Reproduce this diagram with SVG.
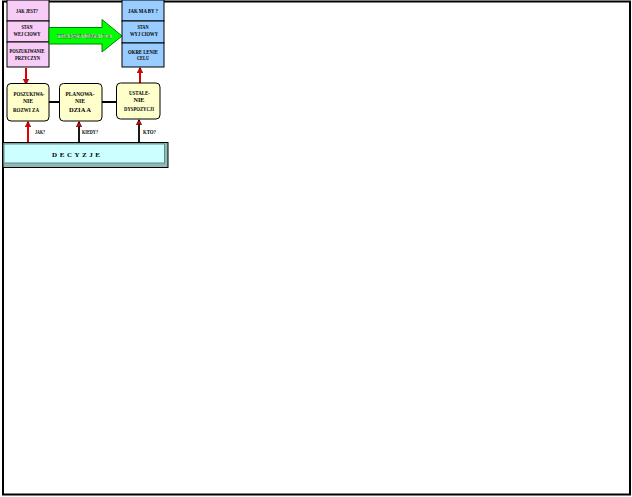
<svg xmlns="http://www.w3.org/2000/svg" width="632" height="497" viewBox="0 0 632 497">
<style>
.t{font-family:"Liberation Serif","Times New Roman",serif;font-weight:bold;font-size:7px;fill:#000;text-anchor:middle}
.box{stroke:#000;stroke-width:1}
.pink{fill:#f7ccf7}
.blue{fill:#99ccff}
.yel{fill:#ffffcc;stroke:#000;stroke-width:1}
.conn{stroke:#000;stroke-width:2;fill:none}
.red{stroke:#e00000;stroke-width:2;fill:none}
.blk{stroke:#000;stroke-width:1.8;fill:none}
</style>
<defs>
<marker id="ar" viewBox="0 0 10 10" refX="9" refY="5" markerWidth="3" markerHeight="3" orient="auto" markerUnits="strokeWidth">
<path d="M0,0 L10,5 L0,10 z" fill="#e00000" stroke="#600000" stroke-width="1"/>
</marker>
<marker id="ab" viewBox="0 0 10 10" refX="9" refY="5" markerWidth="3" markerHeight="3" orient="auto" markerUnits="strokeWidth">
<path d="M0,0 L10,5 L0,10 z" fill="#e00000" stroke="#000" stroke-width="1"/>
</marker>
</defs>
<rect width="632" height="497" fill="#fff"/>
<rect x="3" y="1.5" width="627" height="493" fill="none" stroke="#000" stroke-width="2"/>

<g id="connectors">
<line class="conn" x1="49" y1="102" x2="60" y2="102"/>
<line class="conn" x1="102" y1="102" x2="117" y2="102"/>
<line class="red" x1="26" y1="68" x2="26" y2="84" marker-end="url(#ar)"/>
<line class="red" x1="140" y1="84" x2="140" y2="68" marker-end="url(#ar)"/>
<line class="red" x1="28" y1="142" x2="28" y2="122" marker-end="url(#ar)"/>
<line class="blk" x1="79" y1="142" x2="79" y2="122" marker-end="url(#ab)"/>
<line class="blk" x1="139" y1="142" x2="139" y2="120" marker-end="url(#ab)"/>
<text class="t" x="40" y="134" font-size="6" textLength="10" lengthAdjust="spacingAndGlyphs">JAK?</text>
<text class="t" x="90" y="134" font-size="6" textLength="16" lengthAdjust="spacingAndGlyphs">KIEDY?</text>
<text class="t" x="149.5" y="134" font-size="6" textLength="13" lengthAdjust="spacingAndGlyphs">KTO?</text>
</g>

<g id="stan-wejsciowy">
<rect class="box pink" x="7" y="0" width="42" height="21"/>
<rect class="box pink" x="7" y="21" width="42" height="21"/>
<rect class="box pink" x="7" y="42" width="42" height="25"/>
<text class="t" x="27" y="13" textLength="22" lengthAdjust="spacingAndGlyphs">JAK JEST?</text>
<text class="t" x="27" y="28.5" textLength="11" lengthAdjust="spacingAndGlyphs">STAN</text>
<text class="t" x="27" y="35.5" textLength="27" lengthAdjust="spacingAndGlyphs">WEJ CIOWY</text>
<text class="t" x="27" y="52.5" textLength="35" lengthAdjust="spacingAndGlyphs">POSZUKIWANIE</text>
<text class="t" x="27.5" y="59.5" textLength="25" lengthAdjust="spacingAndGlyphs">PRZYCZYN</text>
</g>

<g id="transformacja">
<path d="M49,27.5 L102,27.5 L102,19.5 L122,36 L102,52 L102,44 L49,44 z" fill="#00ff00" stroke="#008000" stroke-width="1"/>
<text class="t" x="84.5" y="37.5" style="fill:#ffffff" stroke="#303030" stroke-width="0.25" textLength="55" lengthAdjust="spacingAndGlyphs">TRANSFORMACJA</text>
</g>

<g id="stan-wyjsciowy">
<rect class="box blue" x="122" y="0" width="42" height="21"/>
<rect class="box blue" x="122" y="21" width="42" height="22"/>
<rect class="box blue" x="122" y="43" width="42" height="24"/>
<text class="t" x="143" y="12.5" textLength="30" lengthAdjust="spacingAndGlyphs">JAK MA BY ?</text>
<text class="t" x="143" y="28.5" textLength="11" lengthAdjust="spacingAndGlyphs">STAN</text>
<text class="t" x="144" y="35.5" textLength="28" lengthAdjust="spacingAndGlyphs">WYJ CIOWY</text>
<text class="t" x="143" y="53.5" textLength="30" lengthAdjust="spacingAndGlyphs">OKRE LENIE</text>
<text class="t" x="143" y="60" textLength="12" lengthAdjust="spacingAndGlyphs">CELU</text>
</g>

<g id="poszukiwanie-rozwiazan">
<rect class="yel" x="7" y="83.5" width="42" height="37.5" rx="4"/>
<text class="t" x="29" y="95.5" textLength="31" lengthAdjust="spacingAndGlyphs">POSZUKIWA-</text>
<text class="t" x="28" y="102.5" textLength="10" lengthAdjust="spacingAndGlyphs">NIE</text>
<text class="t" x="26" y="111.5" textLength="26" lengthAdjust="spacingAndGlyphs">ROZWI ZA</text>
</g>

<g id="planowanie-dzialan">
<rect class="yel" x="59.5" y="83.5" width="42.5" height="37.5" rx="4"/>
<text class="t" x="80" y="95.5" textLength="29" lengthAdjust="spacingAndGlyphs">PLANOWA-</text>
<text class="t" x="80" y="102.5" textLength="10" lengthAdjust="spacingAndGlyphs">NIE</text>
<text class="t" x="80" y="111.5" textLength="22" lengthAdjust="spacingAndGlyphs">DZIA A</text>
</g>

<g id="ustalenie-dyspozycji">
<rect class="yel" x="116.5" y="83" width="43.5" height="36" rx="4"/>
<text class="t" x="139.5" y="94.5" textLength="21" lengthAdjust="spacingAndGlyphs">USTALE-</text>
<text class="t" x="139" y="101.5" textLength="11" lengthAdjust="spacingAndGlyphs">NIE</text>
<text class="t" x="139" y="110.5" textLength="30" lengthAdjust="spacingAndGlyphs">DYSPOZYCJI</text>
</g>

<g id="decyzje">
<rect x="3" y="142.5" width="165" height="25" fill="#8fb8b8" stroke="#000" stroke-width="1"/>
<rect x="4" y="144" width="160.5" height="19" fill="#ccffff" stroke="#5f8f8f" stroke-width="1"/>
<text class="t" x="76" y="157" font-size="6.5" textLength="48" lengthAdjust="spacing">D E C Y Z J E</text>
</g>
</svg>
